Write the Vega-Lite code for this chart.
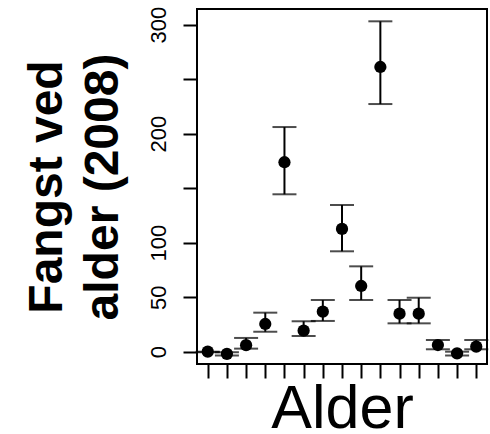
{
  "$schema": "https://vega.github.io/schema/vega-lite/v6.json",
  "width": 290,
  "height": 355,
  "autosize": {"type": "none"},
  "padding": {"left": 197, "top": 9, "right": 3, "bottom": 70},
  "background": "white",
  "config": {
    "view": {"stroke": "black", "strokeWidth": 2},
    "font": "Liberation Sans"
  },
  "data": {
    "values": [
      {"alder": 1, "y": 0, "lo": -0.5, "hi": 0},
      {"alder": 2, "y": -2, "lo": -3.5, "hi": -0.5},
      {"alder": 3, "y": 6, "lo": 2.8, "hi": 12.6},
      {"alder": 4, "y": 25.4, "lo": 18.3, "hi": 35.8},
      {"alder": 5, "y": 173.8, "lo": 144.4, "hi": 206.1},
      {"alder": 6, "y": 19.3, "lo": 14.4, "hi": 27.9},
      {"alder": 7, "y": 36.7, "lo": 28.2, "hi": 47.4},
      {"alder": 8, "y": 112.6, "lo": 92.1, "hi": 134.6},
      {"alder": 9, "y": 60.3, "lo": 47.4, "hi": 78.3},
      {"alder": 10, "y": 261.2, "lo": 227.2, "hi": 303.1},
      {"alder": 11, "y": 34.9, "lo": 26, "hi": 47.4},
      {"alder": 12, "y": 34.9, "lo": 26, "hi": 49.5},
      {"alder": 13, "y": 6.1, "lo": 2.2, "hi": 10.7},
      {"alder": 14, "y": -1.5, "lo": -3.5, "hi": 0},
      {"alder": 15, "y": 4.6, "lo": 2.2, "hi": 10.7}
    ]
  },
  "encoding": {
    "x": {
      "field": "alder",
      "type": "quantitative",
      "scale": {"domain": [0.44, 15.56], "nice": false, "zero": false},
      "axis": {
        "values": [1, 2, 3, 4, 5, 6, 7, 8, 9, 10, 11, 12, 13, 14, 15],
        "labels": false,
        "domain": false,
        "grid": false,
        "tickSize": 14,
        "tickWidth": 2,
        "tickColor": "black",
        "title": "Alder",
        "titleFont": "Liberation Sans",
        "titleFontSize": 61,
        "titleFontWeight": "normal",
        "titleColor": "black",
        "titleBaseline": "top",
        "titlePadding": 0
      }
    }
  },
  "layer": [
    {
      "mark": {"type": "rule", "color": "black", "strokeWidth": 2},
      "encoding": {
        "y": {
          "field": "lo",
          "type": "quantitative",
          "title": ["Fangst ved", "alder (2008)"],
          "scale": {"domain": [-11.3, 314.4], "nice": false, "zero": false},
          "axis": {
            "values": [0, 50, 100, 150, 200, 250, 300],
            "labelExpr": "datum.value == 150 || datum.value == 250 ? '' : datum.label",
            "labelAngle": -90,
            "labelAlign": "center",
            "labelBaseline": "alphabetic",
            "labelPadding": 18,
            "labelFont": "Liberation Sans",
            "labelFontSize": 22,
            "labelColor": "black",
            "labelOverlap": false,
            "labelFlush": false,
            "domain": false,
            "grid": false,
            "tickSize": 14,
            "tickWidth": 2,
            "tickColor": "black",
            "titleFont": "Liberation Sans",
            "titleFontSize": 48,
            "titleFontWeight": "bold",
            "titleLineHeight": 56,
            "titleColor": "black",
            "titlePadding": 20
          }
        },
        "y2": {"field": "hi"}
      }
    },
    {
      "mark": {"type": "tick", "color": "black", "orient": "horizontal", "size": 24, "thickness": 2},
      "encoding": {
        "y": {"field": "lo", "type": "quantitative", "title": ["Fangst ved", "alder (2008)"]}
      }
    },
    {
      "mark": {"type": "tick", "color": "black", "orient": "horizontal", "size": 24, "thickness": 2},
      "encoding": {
        "y": {"field": "hi", "type": "quantitative", "title": ["Fangst ved", "alder (2008)"]}
      }
    },
    {
      "mark": {"type": "point", "shape": "circle", "filled": true, "color": "black", "opacity": 1, "size": 150},
      "encoding": {
        "y": {"field": "y", "type": "quantitative", "title": ["Fangst ved", "alder (2008)"]}
      }
    }
  ]
}
